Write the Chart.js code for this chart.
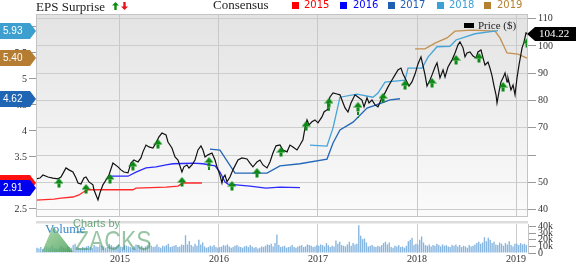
<!DOCTYPE html>
<html>
<head>
<meta charset="utf-8">
<script src="https://cdn.jsdelivr.net/npm/chart.js@4.4.0/dist/chart.umd.min.js"></script>
<style>
  body { margin: 0; width: 576px; height: 264px; overflow: hidden; position: relative; background: #fff; }
  .abs { position: absolute; white-space: nowrap; }
  .serif { font-family: 'Liberation Serif', serif; }
  .sq { position: absolute; width: 7px; height: 7px; top: 2px; }
  .yr { position: absolute; top: 0; font: 10px 'DejaVu Sans', sans-serif; line-height: 10px; }
</style>
</head>
<body>
<canvas id="main" class="abs" width="576" height="226" style="left:0;top:0"></canvas>
<canvas id="vol" class="abs" width="576" height="49" style="left:0;top:216px"></canvas>

<!-- legend row -->
<div class="abs serif" style="left:36px;top:0;font-size:13px;line-height:13px;color:#222">EPS Surprise</div>
<svg class="abs" style="left:110px;top:0" width="20" height="11">
  <polygon points="5.5,2 9,5.5 6.7,5.5 6.7,10 4.3,10 4.3,5.5 2,5.5" fill="#0c8a12"/>
  <polygon points="14.5,10 18,6.5 15.7,6.5 15.7,2 13.3,2 13.3,6.5 11,6.5" fill="#e8141c"/>
</svg>
<div class="abs serif" style="left:213px;top:-2px;font-size:13px;line-height:13px;color:#222">Consensus</div>
<div class="sq" style="left:292px;background:#ff0000"></div><div class="yr" style="left:304px;color:#ff0000">2015</div>
<div class="sq" style="left:340px;background:#0000ff"></div><div class="yr" style="left:353px;color:#0000ff">2016</div>
<div class="sq" style="left:388px;background:#1e5fb4"></div><div class="yr" style="left:400px;color:#1e5fb4">2017</div>
<div class="sq" style="left:437px;background:#3aa0d6"></div><div class="yr" style="left:449px;color:#3aa0d6">2018</div>
<div class="sq" style="left:484px;background:#b5802f"></div><div class="yr" style="left:497px;color:#b5802f">2019</div>

<div class="abs" style="left:464px;top:23px;width:10px;height:5px;background:#000"></div>
<div class="abs serif" style="left:478px;top:20px;font-size:11px;line-height:11px;color:#222">Price ($)</div>

<!-- volume label and watermark -->
<svg class="abs" style="left:40px;top:224px" width="40" height="30">
  <defs><linearGradient id="tg" x1="0" y1="0" x2="1" y2="1">
    <stop offset="0" stop-color="#9fd29a" stop-opacity="0.8"/><stop offset="1" stop-color="#3f9a4f" stop-opacity="0.8"/>
  </linearGradient></defs>
  <polygon points="13,2 33,28 2,28" fill="url(#tg)"/>
</svg>
<div class="abs" style="left:73px;top:218px;font:11px 'Liberation Sans',sans-serif;line-height:11px;color:rgba(80,150,100,0.85)">Charts by</div>
<div class="abs" style="left:75px;top:227px;font:28px 'Liberation Sans',sans-serif;line-height:28px;color:rgba(70,150,90,0.55);transform:scaleX(0.82);transform-origin:0 0">ZACKS</div>
<div class="abs serif" style="left:45px;top:222px;font-size:13px;line-height:13px;color:#3b88c9">Volume</div>

<script>
// ---- axes ----
const yearTicks = [2015, 2016, 2017, 2018, 2019];
const epsTicks = [2.5, 3, 3.5, 4, 4.5, 5, 5.5, 6];
const priceTicks = [40, 50, 60, 70, 80, 90, 100, 110];
const volTicks = [0, 10, 20, 30, 40];

// ---- price ($), [year, price] ----
const price = [
  [2014.152,51.3],[2014.192,51.6],[2014.222,52.7],[2014.273,52.0],[2014.323,51.6],[2014.374,51.3],[2014.404,52.0],[2014.455,55.3],[2014.485,54.6],[2014.525,53.8],
  [2014.556,51.6],[2014.576,49.8],[2014.606,49.4],[2014.636,51.6],[2014.657,52.0],[2014.687,50.2],[2014.727,49.1],[2014.737,47.3],[2014.778,43.6],[2014.798,46.2],
  [2014.828,49.1],[2014.859,50.9],[2014.889,52.7],[2014.929,57.1],[2014.980,55.7],[2015.010,54.6],[2015.040,53.8],[2015.081,53.5],[2015.111,57.1],[2015.141,58.2],
  [2015.182,57.5],[2015.212,59.0],[2015.232,61.2],[2015.263,63.7],[2015.293,63.0],[2015.333,62.6],[2015.364,64.5],[2015.394,66.7],[2015.424,68.1],[2015.465,67.4],
  [2015.485,64.8],[2015.525,62.6],[2015.556,59.3],[2015.586,58.2],[2015.626,53.8],[2015.646,55.7],[2015.677,56.4],[2015.697,55.3],[2015.727,56.4],[2015.758,58.2],
  [2015.788,61.9],[2015.818,63.4],[2015.838,61.9],[2015.859,59.3],[2015.889,60.1],[2015.929,60.8],[2015.960,58.2],[2015.980,55.7],[2016.010,52.7],[2016.030,49.8],
  [2016.040,51.6],[2016.061,52.7],[2016.081,50.2],[2016.111,52.0],[2016.141,54.6],[2016.192,58.2],[2016.232,59.0],[2016.283,58.6],[2016.313,57.1],[2016.343,55.7],
  [2016.384,57.5],[2016.414,58.2],[2016.444,56.4],[2016.485,55.3],[2016.515,57.5],[2016.545,60.8],[2016.576,63.4],[2016.616,63.7],[2016.646,61.9],[2016.687,61.2],
  [2016.717,63.7],[2016.747,63.0],[2016.788,61.9],[2016.818,63.7],[2016.848,65.6],[2016.869,70.0],[2016.889,72.9],[2016.909,71.1],[2016.939,72.2],[2016.970,72.9],
  [2017.000,71.8],[2017.040,74.0],[2017.061,75.8],[2017.091,76.6],[2017.101,79.1],[2017.121,81.3],[2017.152,82.8],[2017.192,82.4],[2017.222,82.1],[2017.242,80.2],
  [2017.273,77.3],[2017.303,75.8],[2017.333,79.1],[2017.374,82.1],[2017.404,81.3],[2017.444,80.2],[2017.465,77.7],[2017.495,81.0],[2017.515,79.1],[2017.545,80.2],
  [2017.576,78.4],[2017.606,77.7],[2017.646,81.0],[2017.677,82.8],[2017.707,85.0],[2017.747,87.5],[2017.778,89.4],[2017.808,91.2],[2017.838,91.9],[2017.859,89.7],
  [2017.889,87.5],[2017.919,85.3],[2017.949,86.8],[2017.980,89.7],[2018.010,93.4],[2018.040,96.0],[2018.061,92.7],[2018.081,89.4],[2018.101,85.3],[2018.131,87.5],
  [2018.152,89.4],[2018.182,92.3],[2018.202,93.8],[2018.232,88.3],[2018.263,91.2],[2018.283,88.6],[2018.313,92.3],[2018.354,94.9],[2018.384,97.4],[2018.414,100.4],
  [2018.434,101.5],[2018.465,99.3],[2018.485,96.0],[2018.505,97.4],[2018.535,97.8],[2018.566,96.3],[2018.596,95.6],[2018.616,97.8],[2018.646,98.5],[2018.667,95.6],
  [2018.687,93.0],[2018.717,94.1],[2018.737,91.9],[2018.758,89.0],[2018.778,85.3],[2018.798,82.1],[2018.808,79.1],[2018.828,83.2],[2018.848,86.8],[2018.869,88.3],
  [2018.889,90.1],[2018.909,86.8],[2018.919,88.3],[2018.949,83.9],[2018.970,85.7],[2018.990,82.1],[2019.010,88.3],[2019.030,93.0],[2019.061,99.3],[2019.081,101.5],
  [2019.101,104.8],[2019.121,104.22]
];

// ---- consensus EPS by fiscal year, [year, eps] ----
const cons2015 = [[2014.152,2.67],[2014.333,2.69],[2014.404,2.71],[2014.525,2.73],[2014.586,2.77],[2014.636,2.83],[2014.677,2.87],
  [2015.131,2.87],[2015.162,2.90],[2015.465,2.92],[2015.586,2.94],[2015.636,3.00],[2015.828,3.00]];
const cons2016 = [[2014.889,3.13],[2015.081,3.13],[2015.162,3.21],[2015.263,3.29],[2015.364,3.31],[2015.465,3.35],[2015.535,3.37],
  [2015.737,3.38],[2015.838,3.37],[2015.960,3.33],[2016.010,3.21],[2016.061,3.02],[2016.091,2.98],[2016.313,2.94],[2016.475,2.90],
  [2016.616,2.92],[2016.818,2.91]];
const cons2017 = [[2015.909,3.65],[2016.010,3.63],[2016.162,3.19],[2016.485,3.19],[2016.616,3.33],[2016.818,3.37],[2017.091,3.46],
  [2017.152,3.77],[2017.222,4.02],[2017.354,4.17],[2017.495,4.44],[2017.646,4.54],[2017.727,4.60],[2017.828,4.62]];
const cons2018 = [[2016.919,3.73],[2017.091,3.71],[2017.152,4.06],[2017.222,4.65],[2017.394,4.71],[2017.556,4.65],[2017.606,4.73],
  [2017.677,4.94],[2017.879,4.98],[2017.909,5.21],[2018.051,5.21],[2018.111,5.42],[2018.202,5.62],[2018.333,5.63],[2018.394,5.75],
  [2018.586,5.87],[2018.818,5.93]];
const cons2019 = [[2017.980,5.58],[2018.081,5.58],[2018.182,5.69],[2018.303,5.79],[2018.384,5.92],[2018.556,5.94],[2018.788,5.92],
  [2018.838,5.79],[2018.909,5.50],[2019.020,5.48],[2019.111,5.40]];

// ---- EPS surprises (all positive) ----
const surpriseDates = [2014.384,2014.657,2014.899,2015.131,2015.384,2015.626,2015.899,2016.131,2016.384,2016.626,
  2016.879,2017.111,2017.404,2017.657,2017.879,2018.152,2018.394,2018.626,2018.869,2019.111];
const surpriseAt = [51.6,49.4,53.1,57.9,65.9,52.0,59.3,50.5,55.3,63.0,72.5,81.0,79.5,82.8,87.5,88.3,96.7,97.4,86.8,102.9];
const surpriseStemTo = [null,null,null,null,null,null,53.8,null,null,null,null,75.5,73.6,null,null,null,null,null,null,null];

// ---- weekly volume (thousands) ----
const volStart = 2014.162;
const vol2014 = [8,7,9,6,8,10,7,9,12,8,7,6,9,11,8,7,10,9,8,12,14,9,8,7,9,8,10,11,9,8,12,10,9,13,11,10,8,9,14,12,10,9,11,13];
const vol2015 = [10,9,12,11,10,9,8,10,13,12,9,11,8,10,12,16,11,9,10,13,9,8,11,10,12,14,9,10,11,12,9,10,13,12,27,13,18,12,10,14,11,20,13,16,10,8,9,11,10,12,9,8];
const vol2016 = [9,10,12,11,13,10,8,9,11,12,10,9,8,10,11,9,12,10,8,9,7,8,10,9,11,13,12,14,10,15,28,12,9,10,11,8,9,10,12,9,8,10,11,12,9,10,13,12,11,9,10,12];
const vol2017 = [11,13,12,10,15,12,9,11,10,19,14,17,12,11,10,13,17,11,15,13,14,42,26,21,22,16,10,11,12,10,9,11,10,12,15,17,13,16,9,8,11,10,12,9,10,8,11,18,20,23,12,14];
const vol2018 = [13,20,25,16,12,11,13,10,12,11,14,12,10,13,11,12,10,9,12,11,13,10,12,9,11,10,8,12,10,11,13,15,17,14,16,24,18,23,20,15,17,13,12,16,14,11,15,13,18,12,10,14];
const vol2019 = [14,12,15,13,14,12];

const xMin = 2014.152, xMax = 2019.121;
const pts = arr => arr.map(p => ({ x: p[0], y: p[1] }));
const last = arr => arr[arr.length - 1][1];

Chart.defaults.font.family = "'Liberation Serif', serif";
Chart.defaults.font.size = 10;
Chart.defaults.color = '#333';

// green arrow used as point style, tip at the image centre
function arrowImage() {
  const c = document.createElement('canvas');
  c.width = 9; c.height = 20;
  const g = c.getContext('2d');
  g.fillStyle = '#0c8a14';
  g.beginPath(); g.moveTo(4.5, 10); g.lineTo(9, 15.5); g.lineTo(0, 15.5); g.closePath(); g.fill();
  g.fillRect(3, 15.5, 3, 4);
  return c;
}

const setTicks = list => scale => { scale.ticks = list.map(v => ({ value: v })); };

const panelBg = {
  id: 'panelBg',
  beforeDraw(chart) {
    const { ctx, chartArea: a } = chart;
    const grd = ctx.createLinearGradient(0, a.top, 0, a.bottom);
    grd.addColorStop(0, '#e3e3e3');
    grd.addColorStop(1, '#fbfbfb');
    ctx.save();
    ctx.fillStyle = grd;
    ctx.fillRect(a.left, a.top, a.right - a.left, a.bottom - a.top);
    ctx.restore();
  },
  afterDraw(chart) {
    const { ctx, chartArea: a } = chart;
    ctx.save();
    ctx.strokeStyle = '#c4c4c4';
    ctx.lineWidth = 1;
    ctx.strokeRect(a.left + 0.5, a.top + 0.5, a.right - a.left - 1, a.bottom - a.top);
    ctx.restore();
  }
};

// dashed stems under some surprise arrows
const stems = {
  id: 'stems',
  afterDatasetsDraw(chart) {
    const { ctx } = chart;
    const xs = chart.scales.x, ys = chart.scales.price;
    ctx.save();
    ctx.strokeStyle = '#0c8a14';
    ctx.lineWidth = 2;
    ctx.setLineDash([3, 2]);
    surpriseStemTo.forEach((low, i) => {
      if (low == null) return;
      const x = xs.getPixelForValue(surpriseDates[i]);
      ctx.beginPath();
      ctx.moveTo(x, ys.getPixelForValue(surpriseAt[i]) + 10);
      ctx.lineTo(x, ys.getPixelForValue(low));
      ctx.stroke();
    });
    ctx.restore();
  }
};

// value tags on both sides
const tags = {
  id: 'tags',
  afterDraw(chart) {
    const { ctx } = chart;
    const eps = chart.scales.eps, pr = chart.scales.price;
    const left = [
      [last(cons2015), '#ff1010', false],
      [last(cons2016), '#0000ee', true],
      [last(cons2017), '#1f65b3', true],
      [last(cons2019), '#b57d32', true],
      [last(cons2018), '#3d9fd0', true]
    ];
    ctx.save();
    left.forEach(([v, color, label]) => {
      const y = Math.round(eps.getPixelForValue(v));
      ctx.fillStyle = color;
      ctx.beginPath();
      ctx.moveTo(0, y - 8); ctx.lineTo(30, y - 8); ctx.lineTo(36, y);
      ctx.lineTo(30, y + 8); ctx.lineTo(0, y + 8); ctx.closePath();
      ctx.fill();
      if (label) {
        ctx.fillStyle = '#fff';
        ctx.font = "10px 'Liberation Sans', sans-serif";
        ctx.textBaseline = 'middle';
        ctx.textAlign = 'left';
        ctx.fillText(v.toFixed(2), 3, y + 0.5);
      }
    });
    const p = last(price);
    const y = Math.round(pr.getPixelForValue(p));
    ctx.fillStyle = '#000';
    ctx.beginPath();
    ctx.moveTo(527, y); ctx.lineTo(535, y - 7); ctx.lineTo(576, y - 7);
    ctx.lineTo(576, y + 7); ctx.lineTo(535, y + 7); ctx.closePath();
    ctx.fill();
    ctx.fillStyle = '#fff';
    ctx.font = "11px 'Liberation Serif', serif";
    ctx.textBaseline = 'middle';
    ctx.textAlign = 'left';
    ctx.fillText(p.toFixed(2), 539, y + 0.5);
    ctx.restore();
  }
};

const consLine = (data, color) => ({
  data: pts(data), borderColor: color, borderWidth: 1.3, pointRadius: 0, yAxisID: 'eps', order: 2
});

new Chart(document.getElementById('main'), {
  type: 'line',
  data: {
    datasets: [
      {
        type: 'scatter',
        data: surpriseDates.map((d, i) => ({ x: d, y: surpriseAt[i] })),
        pointStyle: arrowImage(),
        yAxisID: 'price',
        order: 0
      },
      {
        data: pts(price), borderColor: '#111', borderWidth: 1.2, pointRadius: 0,
        yAxisID: 'price', order: 1
      },
      consLine(cons2015, '#ff2a2a'),
      consLine(cons2016, '#2a2aff'),
      consLine(cons2017, '#2466b8'),
      consLine(cons2018, '#45a5d8'),
      consLine(cons2019, '#c3904f')
    ]
  },
  options: {
    responsive: false,
    animation: false,
    layout: { padding: { top: 14, bottom: 10, left: 0, right: 0 } },
    plugins: { legend: { display: false }, tooltip: { enabled: false } },
    scales: {
      x: {
        type: 'linear', min: xMin, max: xMax,
        afterBuildTicks: setTicks(yearTicks),
        ticks: { display: false },
        grid: { color: '#c8c8c8', drawTicks: false },
        border: { display: false }
      },
      price: {
        position: 'right', min: 37.7, max: 111.7,
        afterBuildTicks: setTicks(priceTicks),
        afterFit: s => { s.width = 48; },
        grid: { color: '#cdcdcd', tickLength: 8, tickColor: '#999' },
        border: { display: false },
        ticks: { padding: 2, autoSkip: false, callback: v => (v === 60 ? '' : String(v)) }
      },
      eps: {
        position: 'left', min: 2.365, max: 6.25,
        afterBuildTicks: setTicks(epsTicks),
        afterFit: s => { s.width = 36; },
        grid: { drawOnChartArea: false, tickLength: 7, tickColor: '#999' },
        border: { display: false },
        ticks: { padding: 2, autoSkip: false, callback: v => String(v) }
      }
    }
  },
  plugins: [panelBg, stems, tags]
});

// ---- volume panel ----
const volume = [].concat(vol2014, vol2015, vol2016, vol2017, vol2018, vol2019);

const volBand = {
  id: 'volBand',
  beforeDraw(chart) {
    const { ctx, chartArea: a } = chart;
    ctx.save();
    ctx.fillStyle = '#dcdcdc';
    ctx.fillRect(a.left, a.top - 3, a.right - a.left, 2.5);
    ctx.restore();
  }
};

new Chart(document.getElementById('vol'), {
  type: 'bar',
  data: {
    datasets: [{
      data: volume.map((v, i) => ({ x: volStart + i / 52, y: v })),
      backgroundColor: '#86b5e0',
      barPercentage: 0.72,
      categoryPercentage: 1
    }]
  },
  options: {
    responsive: false,
    animation: false,
    layout: { padding: { top: 3, left: 36, right: 0, bottom: 0 } },
    plugins: { legend: { display: false }, tooltip: { enabled: false } },
    scales: {
      x: {
        type: 'linear', min: xMin, max: xMax, offset: false,
        afterBuildTicks: setTicks(yearTicks),
        grid: { color: '#cccccc', drawTicks: false, offset: false },
        border: { display: false },
        ticks: { padding: 0, autoSkip: false, callback: v => String(v) }
      },
      y: {
        position: 'right', min: 0, max: 44,
        afterBuildTicks: setTicks(volTicks),
        afterFit: s => { s.width = 48; },
        grid: { drawOnChartArea: false, tickLength: 8, tickColor: '#999' },
        border: { display: true, color: '#c4c4c4' },
        ticks: { padding: 2, autoSkip: false, callback: v => (v === 0 ? '0' : v + 'k') }
      }
    }
  },
  plugins: [volBand]
});
</script>
</body>
</html>
